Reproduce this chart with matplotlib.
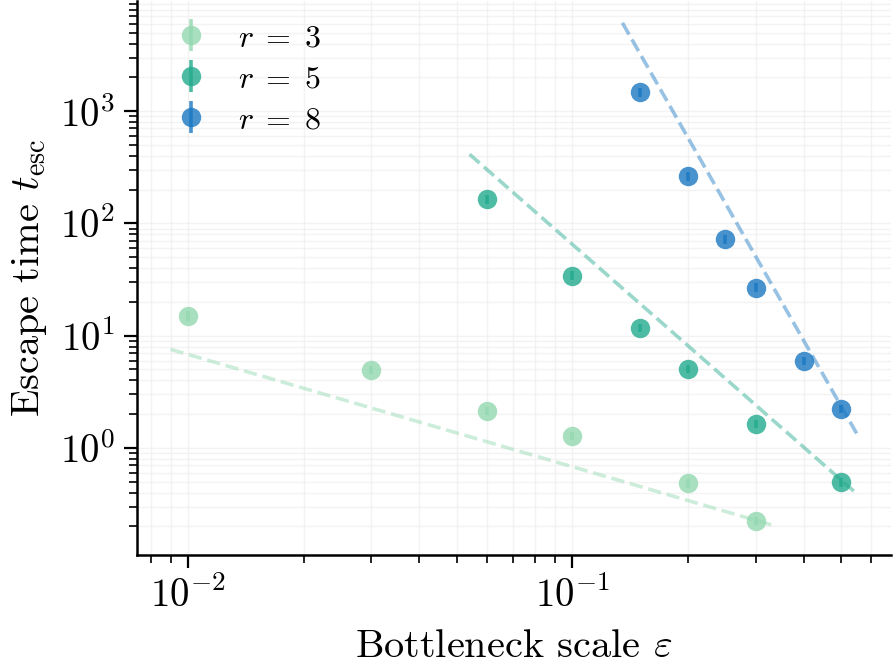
import numpy as np
import matplotlib
matplotlib.use("Agg")
import matplotlib.pyplot as plt

plt.rcParams.update({
    "font.family": "serif",
    "font.serif": ["cmr10"],
    "mathtext.fontset": "cm",
    "axes.formatter.use_mathtext": True,
    "axes.unicode_minus": False,
})

# data
r_values = [3, 5, 8]
colors = ["#92d8b0", "#22aa8d", "#1a78c2"]

eps_r3 = [0.01, 0.03, 0.06, 0.1, 0.2, 0.3]
t_r3 = [15.1, 4.97, 2.14, 1.28, 0.487, 0.223]
err_r3 = [1.5, 0.45, 0.18, 0.1, 0.045, 0.018]

eps_r5 = [0.06, 0.1, 0.15, 0.2, 0.3, 0.5]
t_r5 = [164, 34.3, 11.8, 5.07, 1.64, 0.497]
err_r5 = [15, 3.1, 1.0, 0.45, 0.15, 0.045]

eps_r8 = [0.15, 0.2, 0.25, 0.3, 0.4, 0.5]
t_r8 = [1479, 264, 72, 26.8, 5.98, 2.23]
err_r8 = [135, 24, 6.5, 2.4, 0.5, 0.2]

# power-law guide lines t = A * eps^slope
fit_slope = [-1.0, -3.0, -6.0]
fit_amp = [0.068, 0.065, 0.037]

eps_all = [eps_r3, eps_r5, eps_r8]
t_all = [t_r3, t_r5, t_r8]
err_all = [err_r3, err_r5, err_r8]

fig, ax = plt.subplots(figsize=(4.475, 3.32), dpi=200)

for r, c, ex, ty, er, s, A in zip(r_values, colors, eps_all, t_all, err_all, fit_slope, fit_amp):
    ax.errorbar(ex, ty, yerr=er, fmt="o", color=c, alpha=0.8, ms=7, mew=0,
                capsize=3.0, elinewidth=1.3, capthick=0.4, label=rf"$r\;=\;{r}$", zorder=3)
    xx = np.logspace(np.log10(0.9 * min(ex)), np.log10(1.1 * max(ex)), 50)
    ax.plot(xx, A * xx ** s, "--", color=c, alpha=0.45, lw=1.3, zorder=2)

ax.set_xscale("log")
ax.set_yscale("log")
ax.set_xlim(0.00736, 0.673)
ax.set_ylim(0.111, 9500)
ax.grid(True, which="both", color="#ececec", lw=0.5, alpha=0.6)
ax.set_axisbelow(True)
for sp in ["top", "right"]:
    ax.spines[sp].set_visible(False)
for sp in ["left", "bottom"]:
    ax.spines[sp].set_linewidth(0.9)
ax.tick_params(which="major", direction="out", length=4.8, width=0.8, labelsize=14, pad=3)
ax.tick_params(which="minor", direction="out", length=3.0, width=0.6)

ax.set_xlabel(r"Bottleneck scale $\varepsilon$", fontsize=14.5, labelpad=5)
ax.set_ylabel(r"Escape time $t_{\rm esc}$", fontsize=14.5, labelpad=4)
ax.legend(loc="upper left", frameon=False, fontsize=11.5, labelspacing=0.4,
          borderaxespad=0.3, handletextpad=0.45)

fig.subplots_adjust(left=0.153, right=0.995, bottom=0.164, top=0.998)
fig.savefig("out.png", dpi=200)
